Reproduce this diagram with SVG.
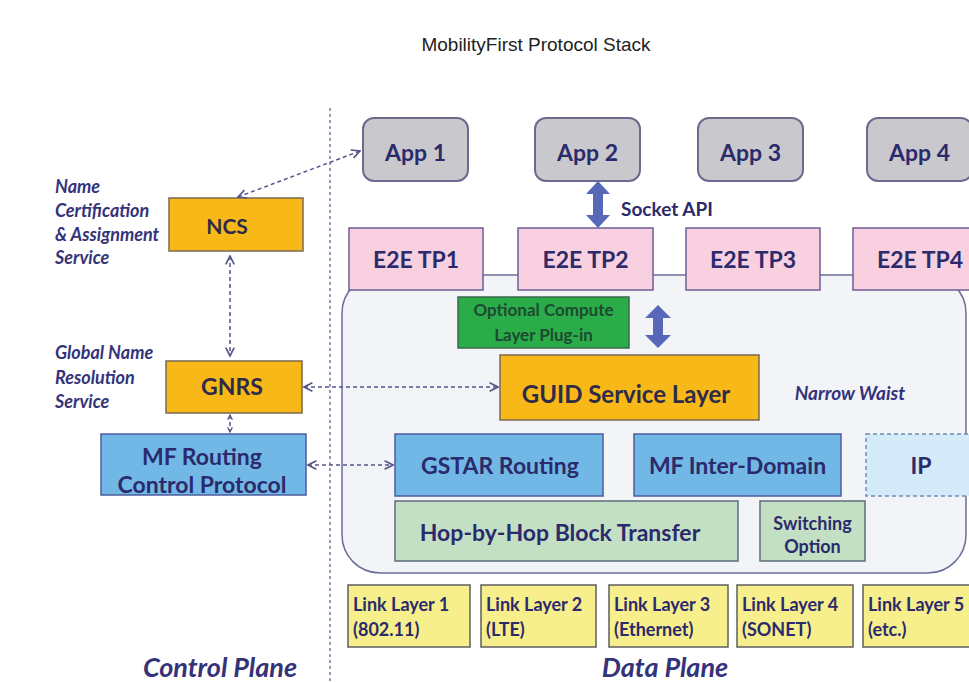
<svg xmlns="http://www.w3.org/2000/svg" width="969" height="682" viewBox="0 0 969 682">
  <defs>
    <style>
      .lbl { font-family: Lato, "Open Sans", "Liberation Sans", sans-serif; font-weight: bold; fill: #2b2a6b; text-anchor: middle; }
      .lft { text-anchor: start; }
      .dark { fill: #2e2a4a; }
      .side { font-family: Lato, "Open Sans", "Liberation Sans", sans-serif; font-weight: bold; font-style: italic; fill: #34337a; font-size: 18px; }
      .plane { font-size: 27px; text-anchor: middle; }
      .app { fill: #c9c9cd; stroke: #6c6a8e; stroke-width: 2; }
      .tp { fill: #f8d0e0; stroke: #6e5e96; stroke-width: 1.5; }
      .orange { fill: #f8b818; stroke: #7a6a50; stroke-width: 1.5; }
      .blue { fill: #72b8e6; stroke: #4c5c9c; stroke-width: 1.5; }
      .pale { fill: #c4e0c4; stroke: #5c6c7c; stroke-width: 1.5; }
      .link { fill: #f6ef8c; stroke: #5e5e5e; stroke-width: 1.5; }
      .dash { fill: none; stroke: #55558a; stroke-width: 1.5; stroke-dasharray: 4 3; }
      .thick { fill: #5868b8; }
    </style>
    <marker id="open" viewBox="0 0 10 10" refX="9" refY="5" markerWidth="7" markerHeight="7" orient="auto-start-reverse">
      <path d="M1,1 L9,5 L1,9" fill="none" stroke="#55558a" stroke-width="1.6"/>
    </marker>
    <marker id="openSmall" viewBox="0 0 10 10" refX="9" refY="5" markerWidth="4" markerHeight="5" orient="auto-start-reverse">
      <path d="M1,1 L9,5 L1,9" fill="none" stroke="#55558a" stroke-width="2"/>
    </marker>
  </defs>

  <rect width="969" height="682" fill="#ffffff"/>

  <text x="536" y="51" font-family="'Liberation Sans', Arial, sans-serif" font-size="19" fill="#222" text-anchor="middle">MobilityFirst Protocol Stack</text>

  <!-- plane divider -->
  <line x1="330" y1="108" x2="330" y2="682" stroke="#7a7aa4" stroke-width="1.5" stroke-dasharray="3 3"/>

  <!-- data plane container -->
  <rect id="waist" x="342" y="275" width="624" height="298" rx="38" fill="#f2f4f8" stroke="#6c6c98" stroke-width="1.5"/>

  <!-- applications -->
  <g id="app1"><rect class="app" x="363" y="118" width="105" height="63" rx="11"/><text class="lbl" x="415.5" y="161" font-size="23">App 1</text></g>
  <g id="app2"><rect class="app" x="535" y="118" width="105" height="63" rx="11"/><text class="lbl" x="587.5" y="161" font-size="23">App 2</text></g>
  <g id="app3"><rect class="app" x="698" y="118" width="105" height="63" rx="11"/><text class="lbl" x="750.5" y="161" font-size="23">App 3</text></g>
  <g id="app4"><rect class="app" x="867" y="118" width="105" height="63" rx="11"/><text class="lbl" x="919.5" y="161" font-size="23">App 4</text></g>

  <!-- transport protocols -->
  <g id="tp1"><rect class="tp" x="349" y="228" width="134" height="62"/><text class="lbl" x="416" y="268" font-size="23">E2E TP1</text></g>
  <g id="tp2"><rect class="tp" x="518" y="228" width="135" height="62"/><text class="lbl" x="585.5" y="268" font-size="23">E2E TP2</text></g>
  <g id="tp3"><rect class="tp" x="686" y="228" width="134" height="62"/><text class="lbl" x="753" y="268" font-size="23">E2E TP3</text></g>
  <g id="tp4"><rect class="tp" x="853" y="228" width="134" height="62"/><text class="lbl" x="920" y="268" font-size="23">E2E TP4</text></g>

  <!-- compute plug-in -->
  <g id="compute">
    <rect x="458" y="297" width="171" height="51" fill="#2aac48" stroke="#3a6a4a" stroke-width="1.5"/>
    <text class="lbl" x="543.5" y="316" font-size="17" style="fill:#1d4a30">Optional Compute</text>
    <text class="lbl" x="543.5" y="341" font-size="17" style="fill:#1d4a30">Layer Plug-in</text>
  </g>

  <g id="guid"><rect class="orange" x="500" y="355" width="259" height="65"/><text class="lbl dark" x="626" y="403" font-size="24">GUID Service Layer</text></g>
  <text class="side" x="850" y="400" style="font-size:19px;text-anchor:middle">Narrow Waist</text>

  <g id="gstar"><rect class="blue" x="395" y="434" width="208" height="62"/><text class="lbl" x="500" y="474" font-size="23">GSTAR Routing</text></g>
  <g id="interdomain"><rect class="blue" x="634" y="434" width="207" height="62"/><text class="lbl" x="737.5" y="474" font-size="23">MF Inter-Domain</text></g>
  <g id="ip"><rect x="866" y="434" width="110" height="62" fill="#d4eaf8" stroke="#6a8eb4" stroke-width="1.5" stroke-dasharray="4 3"/><text class="lbl" x="921" y="474" font-size="23">IP</text></g>

  <g id="hop"><rect class="pale" x="395" y="501" width="343" height="60"/><text class="lbl" x="560" y="541" font-size="23">Hop-by-Hop Block Transfer</text></g>
  <g id="switching">
    <rect class="pale" x="760" y="501" width="105" height="60"/>
    <text class="lbl" x="812.5" y="530" font-size="18">Switching</text>
    <text class="lbl" x="812.5" y="553" font-size="18">Option</text>
  </g>

  <!-- link layers -->
  <g id="ll1"><rect class="link" x="348" y="585" width="122" height="62"/><text class="lbl lft" x="353" y="611" font-size="18">Link Layer 1</text><text class="lbl lft" x="353" y="636" font-size="18">(802.11)</text></g>
  <g id="ll2"><rect class="link" x="481" y="585" width="115" height="62"/><text class="lbl lft" x="486" y="611" font-size="18">Link Layer 2</text><text class="lbl lft" x="486" y="636" font-size="18">(LTE)</text></g>
  <g id="ll3"><rect class="link" x="609" y="585" width="119" height="62"/><text class="lbl lft" x="614" y="611" font-size="18">Link Layer 3</text><text class="lbl lft" x="614" y="636" font-size="18">(Ethernet)</text></g>
  <g id="ll4"><rect class="link" x="737" y="585" width="116" height="62"/><text class="lbl lft" x="742" y="611" font-size="18">Link Layer 4</text><text class="lbl lft" x="742" y="636" font-size="18">(SONET)</text></g>
  <g id="ll5"><rect class="link" x="863" y="585" width="120" height="62"/><text class="lbl lft" x="868" y="611" font-size="18">Link Layer 5</text><text class="lbl lft" x="868" y="636" font-size="18">(etc.)</text></g>

  <!-- control plane services -->
  <g id="ncs"><rect class="orange" x="169" y="198" width="134" height="53"/><text class="lbl dark" x="227" y="234" font-size="21">NCS</text></g>
  <g id="gnrs"><rect class="orange" x="166" y="361" width="136" height="52"/><text class="lbl dark" x="232" y="395" font-size="23">GNRS</text></g>
  <g id="mfrouting">
    <rect class="blue" x="101" y="434" width="205" height="61"/>
    <text class="lbl" x="202" y="465" font-size="23">MF Routing</text>
    <text class="lbl" x="202" y="493" font-size="23">Control Protocol</text>
  </g>

  <g id="labels">
    <text class="side" x="55" y="193">Name</text>
    <text class="side" x="55" y="217">Certification</text>
    <text class="side" x="55" y="241">&amp; Assignment</text>
    <text class="side" x="55" y="264">Service</text>
    <text class="side" x="55" y="359">Global Name</text>
    <text class="side" x="55" y="384">Resolution</text>
    <text class="side" x="55" y="408">Service</text>
    <text class="side plane" x="220" y="677">Control Plane</text>
    <text class="side plane" x="665" y="677">Data Plane</text>
    <text class="lbl lft" x="621" y="216" font-size="19">Socket API</text>
  </g>

  <!-- connectors -->
  <g id="connectors">
    <line class="dash" x1="238" y1="197" x2="360" y2="151" marker-start="url(#open)" marker-end="url(#open)"/>
    <line class="dash" x1="230" y1="256" x2="230" y2="356" marker-start="url(#open)" marker-end="url(#open)"/>
    <line class="dash" x1="230" y1="415" x2="230" y2="432" stroke-dasharray="3 2" marker-start="url(#openSmall)" marker-end="url(#openSmall)"/>
    <line class="dash" x1="304" y1="387" x2="498" y2="387" marker-start="url(#open)" marker-end="url(#open)"/>
    <line class="dash" x1="308" y1="465" x2="393" y2="465" marker-start="url(#open)" marker-end="url(#open)"/>
    <!-- socket API double arrow -->
    <path class="thick" d="M598,181 L610,194 L603,194 L603,215 L610,215 L598,228 L586,215 L593,215 L593,194 L586,194 Z"/>
    <!-- compute plug-in double arrow -->
    <path class="thick" d="M658,305 L671,318 L663,318 L663,335 L671,335 L658,348 L645,335 L653,335 L653,318 L645,318 Z"/>
  </g>
</svg>
